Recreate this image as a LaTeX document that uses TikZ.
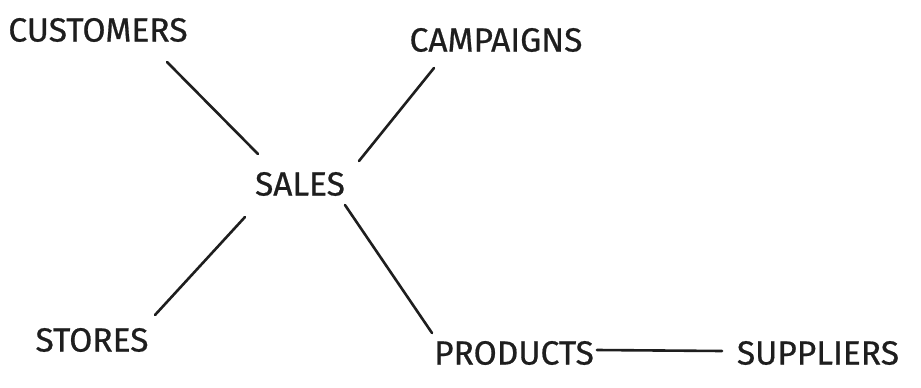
\documentclass[tikz,border=0pt]{standalone}
\usepackage{fontspec}
\setmainfont{Fira Sans}[FakeBold=0.6]
\usetikzlibrary{calc}
\definecolor{ink}{HTML}{1E1E1E}
\begin{document}
\begin{tikzpicture}[x=1pt,y=-1pt,
  entity/.style={inner sep=0pt,text=ink,font=\fontsize{33.5}{33.5}\selectfont},
  link/.style={draw=ink,line width=2.6pt,line cap=round}]
\useasboundingbox[fill=white] (0,0) rectangle (921,388);
% entities
\node[entity] (cust)   at (98,30)   {CUSTOMERS};
\node[entity] (camp)   at (496,40)  {CAMPAIGNS};
\node[entity] (sales)  at (300,184) {SALES};
\node[entity] (stores) at (92,340)  {STORES};
\node[entity] (prod)   at (514,353) {PRODUCTS};
\node[entity] (supp)   at (818,353) {SUPPLIERS};
% relationships
\draw[link] ($(cust)+(69,32)$) -- ($(sales)+(-42,-30)$);
\draw[link] ($(camp)+(-62,28)$) -- ($(sales)+(59,-23)$);
\draw[link] ($(stores)+(63,-25)$) -- ($(sales)+(-55,33)$);
\draw[link] ($(sales)+(45,21)$) -- ($(prod)+(-82,-20)$);
\draw[link] ($(prod)+(83,-3)$) -- ($(supp)+(-96,-2)$);
\end{tikzpicture}
\end{document}
